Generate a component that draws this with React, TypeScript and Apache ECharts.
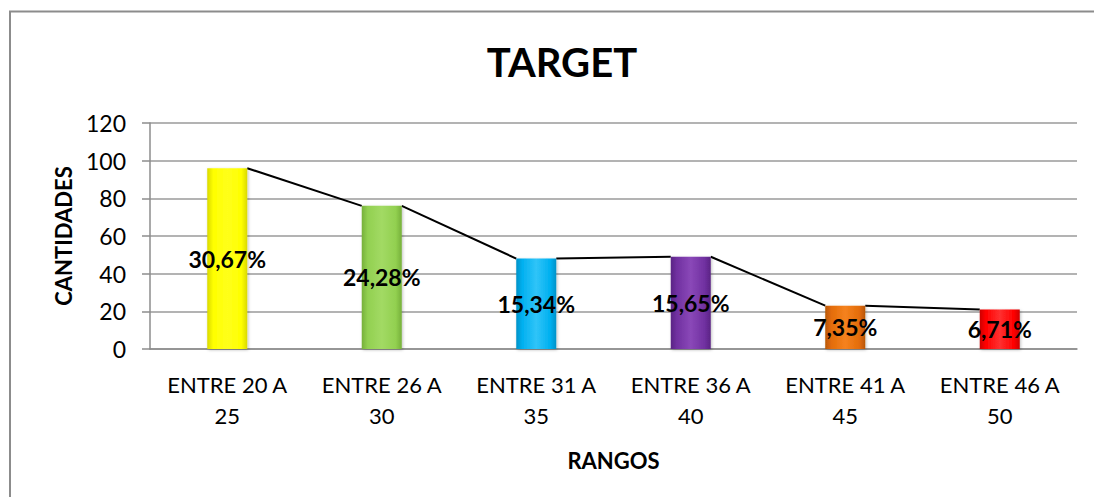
import React, { useEffect, useRef } from "react";
import * as echarts from "echarts";

const categories = [
  "ENTRE 20 A\n25",
  "ENTRE 26 A\n30",
  "ENTRE 31 A\n35",
  "ENTRE 36 A\n40",
  "ENTRE 41 A\n45",
  "ENTRE 46 A\n50",
];
const values = [96, 76, 48, 49, 23, 21];
const barColors = [
  ["#D9D900", "#FFFF1A", "#FFFF00"],
  ["#76B03A", "#A2DA64", "#92D050"],
  ["#0092C8", "#30C4F8", "#00B0F0"],
  ["#5A2484", "#8A48B8", "#7030A0"],
  ["#B85606", "#F5821E", "#E36C09"],
  ["#CC0000", "#FF3030", "#FF0000"],
];
const titleText = "TARGET";
const yAxisName = "CANTIDADES";
const xAxisName = "RANGOS";
const FONT = "Lato, 'Open Sans', sans-serif";
const BAR_W = 40;

export default function App() {
  const ref = useRef<HTMLDivElement>(null);
  useEffect(() => {
    if (!ref.current) return;
    const chart = echarts.init(ref.current, null, { renderer: "svg" });
    const total = values.reduce((a, b) => a + b, 0);
    const pct = values.map(
      (v) => ((v / total) * 100).toFixed(2).replace(".", ",") + "%"
    );
    const segData = values
      .slice(0, -1)
      .map((v, i) => [i, v, values[i + 1]]);
    chart.setOption({
      animation: false,
      backgroundColor: "#fff",
      textStyle: { fontFamily: FONT },
      title: {
        text: titleText,
        left: 557,
        textAlign: "center",
        top: 37,
        textStyle: { fontSize: 40, fontWeight: "bold", color: "#000", fontFamily: FONT },
      },
      graphic: [
        {
          type: "rect",
          shape: { x: 10, y: 11.5, width: 1300, height: 700 },
          style: { fill: "none", stroke: "#8C8C8C", lineWidth: 2 },
          silent: true,
        },
      ],
      grid: { left: 150, right: 17, top: 123, bottom: 148, containLabel: false },
      xAxis: {
        type: "category",
        data: categories,
        name: xAxisName,
        nameLocation: "middle",
        nameGap: 100,
        nameTextStyle: { fontSize: 22, fontWeight: "bold", color: "#000", fontFamily: FONT },
        axisLine: { lineStyle: { color: "#8C8C8C", width: 1.5 } },
        axisTick: { show: false },
        axisLabel: {
          fontSize: 22,
          lineHeight: 31,
          color: "#000",
          margin: 20,
          interval: 0,
          fontFamily: FONT,
        },
      },
      yAxis: {
        type: "value",
        min: 0,
        max: 120,
        interval: 20,
        name: yAxisName,
        nameLocation: "middle",
        nameRotate: 90,
        nameGap: 76,
        nameTextStyle: { fontSize: 22, fontWeight: "bold", color: "#000", fontFamily: FONT },
        axisLine: { show: true, lineStyle: { color: "#8C8C8C", width: 1.5 } },
        axisTick: { show: true, length: 8, lineStyle: { color: "#8C8C8C", width: 1.5 } },
        splitLine: { lineStyle: { color: "#9A9A9A", width: 1.5 } },
        axisLabel: { fontSize: 23, color: "#000", margin: 24, fontFamily: FONT },
      },
      series: [
        {
          type: "bar",
          barWidth: BAR_W,
          z: 3,
          data: values.map((v, i) => ({
            value: v,
            itemStyle: {
              color: new echarts.graphic.LinearGradient(0, 0, 1, 0, [
                { offset: 0, color: barColors[i][0] },
                { offset: 0.15, color: barColors[i][2] },
                { offset: 0.5, color: barColors[i][1] },
                { offset: 0.85, color: barColors[i][2] },
                { offset: 1, color: barColors[i][0] },
              ]),
              shadowColor: "rgba(0,0,0,0.25)",
              shadowBlur: 3,
              shadowOffsetX: 1,
              shadowOffsetY: 1,
            },
          })),
          label: {
            show: true,
            position: "inside",
            formatter: (p: any) => pct[p.dataIndex],
            fontSize: 23,
            fontWeight: "bold",
            color: "#000",
            fontFamily: FONT,
          },
        },
        {
          type: "custom",
          z: 2,
          data: segData,
          encode: { x: 0, y: 1 },
          renderItem: (params: any, api: any) => {
            const i = api.value(0);
            const a = api.coord([i, api.value(1)]);
            const b = api.coord([i + 1, api.value(2)]);
            return {
              type: "line",
              shape: { x1: a[0] + BAR_W / 2, y1: a[1], x2: b[0] - BAR_W / 2, y2: b[1] },
              style: { stroke: "#000", lineWidth: 2 },
            };
          },
        },
      ],
    });
    return () => chart.dispose();
  }, []);
  return (
    <div
      ref={ref}
      style={{ position: "absolute", left: 0, top: 0, width: 1094, height: 497, overflow: "hidden" }}
    />
  );
}
